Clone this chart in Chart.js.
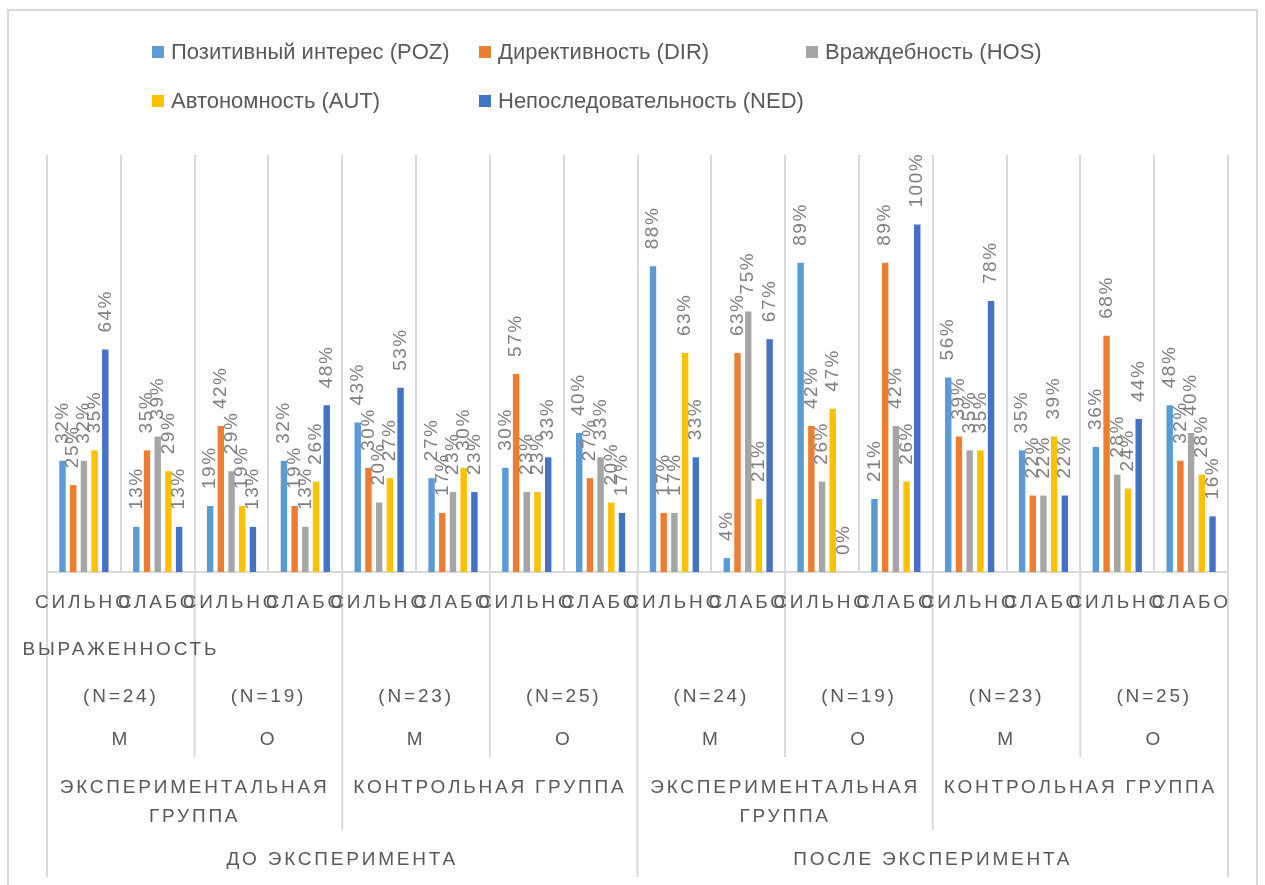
<!DOCTYPE html>
<html>
<head>
<meta charset="utf-8">
<script src="https://cdn.jsdelivr.net/npm/chart.js@4.4.0/dist/chart.umd.min.js"></script>
<style>
  body { margin: 0; background: #fff; }
  #wrap { width: 1265px; height: 885px; }
</style>
</head>
<body>
<div id="wrap"><canvas id="myChart" width="1265" height="885"></canvas></div>
<script>
// categories (lowest level) and the upper levels of the axis
const categories = ['СИЛЬНО', 'СЛАБО', 'СИЛЬНО', 'СЛАБО', 'СИЛЬНО', 'СЛАБО', 'СИЛЬНО', 'СЛАБО',
                    'СИЛЬНО', 'СЛАБО', 'СИЛЬНО', 'СЛАБО', 'СИЛЬНО', 'СЛАБО', 'СИЛЬНО', 'СЛАБО'];
const measureLabels = ['ВЫРАЖЕННОСТЬ', '', '', '', '', '', '', ''];
const sampleLabels = ['(N=24)', '(N=19)', '(N=23)', '(N=25)', '(N=24)', '(N=19)', '(N=23)', '(N=25)'];
const sexLabels = ['М', 'О', 'М', 'О', 'М', 'О', 'М', 'О'];
const groupLabels = [['ЭКСПЕРИМЕНТАЛЬНАЯ', 'ГРУППА'], ['КОНТРОЛЬНАЯ ГРУППА'],
                     ['ЭКСПЕРИМЕНТАЛЬНАЯ', 'ГРУППА'], ['КОНТРОЛЬНАЯ ГРУППА']];
const stageLabels = ['ДО ЭКСПЕРИМЕНТА', 'ПОСЛЕ ЭКСПЕРИМЕНТА'];

// values, %
const poz = [32, 13, 19, 32, 43, 27, 30, 40, 88, 4, 89, 21, 56, 35, 36, 48];
const dir = [25, 35, 42, 19, 30, 17, 57, 27, 17, 63, 42, 89, 39, 22, 68, 32];
const hos = [32, 39, 29, 13, 20, 23, 23, 33, 17, 75, 26, 42, 35, 22, 28, 40];
const aut = [35, 29, 19, 26, 27, 30, 23, 20, 63, 21, 47, 26, 35, 39, 24, 28];
const ned = [64, 13, 13, 48, 53, 23, 33, 17, 33, 67, 0, 100, 78, 22, 44, 16];

const seriesNames = ['Позитивный интерес (POZ)', 'Директивность (DIR)', 'Враждебность (HOS)',
                     'Автономность (AUT)', 'Непоследовательность (NED)'];
const seriesColors = ['#5b9bd5', '#ed7d31', '#a5a5a5', '#ffc000', '#4472c4'];

const textColor = '#595959';
const lineColor = '#d9d9d9';
const axisFont = '19px "Liberation Sans", Arial, sans-serif';

// frame + legend
const framePlugin = {
    id: 'frame',
    beforeDraw(chart) {
        const c = chart.ctx;
        c.save();
        c.fillStyle = '#fff';
        c.fillRect(0, 0, chart.width, chart.height);
        c.strokeStyle = lineColor;
        c.lineWidth = 2;
        c.strokeRect(8, 10, 1249, 885);
        c.restore();
    },
    afterDraw(chart) {
        const c = chart.ctx;
        const cols = [152, 479, 806];
        const rows = [52, 101];
        c.save();
        c.font = '22px "Liberation Sans", sans-serif';
        c.textBaseline = 'middle';
        seriesNames.forEach((name, i) => {
            const x = cols[i % 3], y = rows[Math.floor(i / 3)];
            c.fillStyle = seriesColors[i];
            c.fillRect(x, y - 6, 12, 12);
            c.fillStyle = textColor;
            c.fillText(name, x + 19, y + 1);
        });
        c.restore();
    }
};

// rotated value labels
const valueLabels = {
    id: 'valueLabels',
    afterDatasetsDraw(chart) {
        const c = chart.ctx;
        c.save();
        c.font = '19px "Liberation Sans", Arial, sans-serif';
        c.letterSpacing = '1.5px';
        c.fillStyle = '#7f7f7f';
        c.textAlign = 'left';
        c.textBaseline = 'middle';
        chart.data.datasets.forEach((ds, di) => {
            chart.getDatasetMeta(di).data.forEach((bar, i) => {
                c.save();
                c.translate(bar.x, bar.y - 17);
                c.rotate(-Math.PI / 2);
                c.fillText(ds.data[i] + '%', 0, 0);
                c.restore();
            });
        });
        c.restore();
    }
};

// multi-level category axis
const multiAxis = {
    id: 'multiAxis',
    afterDraw(chart) {
        const xs = chart.scales.x;
        const n = categories.length;
        const cx = i => xs.getPixelForValue(i);
        const edge = i => i === 0 ? xs.left : (i === n ? xs.right : (cx(i - 1) + cx(i)) / 2);
        const mid = (a, b) => (edge(a) + edge(b)) / 2;
        const c = chart.ctx;
        const base = xs.top;

        c.save();
        c.strokeStyle = lineColor;
        c.lineWidth = 2;
        for (let i = 0; i <= n; i += 2) {
            let end = 757;
            if (i % 8 === 0) end = 877;
            else if (i % 4 === 0) end = 830;
            c.beginPath();
            c.moveTo(edge(i), base);
            c.lineTo(edge(i), end);
            c.stroke();
        }

        c.font = axisFont;
        c.letterSpacing = '2.8px';
        c.fillStyle = textColor;
        c.textAlign = 'center';
        c.textBaseline = 'middle';
        categories.forEach((t, i) => c.fillText(t, cx(i), 603));
        measureLabels.forEach((t, j) => { if (t) c.fillText(t, mid(2 * j, 2 * j + 2), 650); });
        sampleLabels.forEach((t, j) => c.fillText(t, mid(2 * j, 2 * j + 2), 697));
        sexLabels.forEach((t, j) => c.fillText(t, mid(2 * j, 2 * j + 2), 740));
        groupLabels.forEach((lines, k) => {
            lines.forEach((t, l) => c.fillText(t, mid(4 * k, 4 * k + 4), 788 + l * 29));
        });
        stageLabels.forEach((t, m) => c.fillText(t, mid(8 * m, 8 * m + 8), 860));
        c.restore();
    }
};

const seriesData = [poz, dir, hos, aut, ned];

const ctx = document.getElementById('myChart').getContext('2d');
const myChart = new Chart(ctx, {
    type: 'bar',
    data: {
        labels: categories,
        datasets: seriesData.map((d, i) => ({
            label: seriesNames[i],
            data: d,
            backgroundColor: seriesColors[i],
            categoryPercentage: 0.725,
            barPercentage: 0.6
        }))
    },
    options: {
        responsive: false,
        animation: false,
        layout: {
            padding: { left: 47, right: 37, top: 155, bottom: 313 }
        },
        plugins: {
            legend: { display: false },
            title: { display: false },
            tooltip: { enabled: false }
        },
        scales: {
            x: {
                offset: true,
                grid: { offset: true, color: lineColor, lineWidth: 2, drawTicks: false },
                border: { color: lineColor, width: 2 },
                ticks: { display: false }
            },
            y: {
                display: false,
                min: 0,
                max: 120
            }
        }
    },
    plugins: [framePlugin, valueLabels, multiAxis]
});
</script>
</body>
</html>
